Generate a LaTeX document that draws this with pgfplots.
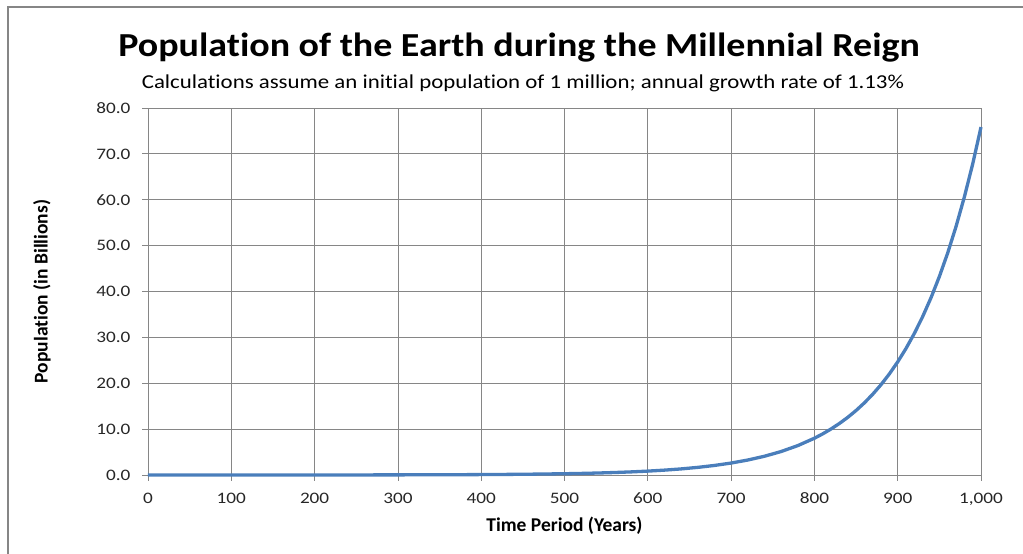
\documentclass[border=0pt]{standalone}
\usepackage{pgfplots}
\pgfplotsset{compat=1.18}
\usepackage{fontspec}
\setmainfont{Carlito}[Ligatures=NoCommon]
% the reference's text is a little wide, so stretch it
\newfontfamily\titlefont{Carlito}[Ligatures=NoCommon, FakeStretch=1.13]
\newfontfamily\subfont{Carlito}[Ligatures=NoCommon, FakeStretch=1.16]
\newfontfamily\tickfont{Carlito}[FakeStretch=1.2]
\definecolor{xlblue}{RGB}{74,126,187}
\definecolor{xlgrid}{RGB}{134,134,134}
\begin{document}
\begin{tikzpicture}[x=1pt,y=1pt]
\useasboundingbox (0,0) rectangle (1023,554);
% chart area border (top and left only, the rest is cropped)
\draw[xlgrid,line width=1.2pt] (8,0) -- (8,547) -- (1023,547);
\node[font=\titlefont\bfseries\fontsize{33.6}{36}\selectfont] at (519,506) {Population of the Earth during the Millennial Reign};
\node[font=\subfont\fontsize{19.7}{23}\selectfont] at (523,471) {Calculations assume an initial population of 1 million; annual growth rate of 1.13\%};
\begin{axis}[
    at={(148pt,79pt)}, anchor=south west,
    scale only axis, width=833pt, height=367pt,
    xmin=0, xmax=1000, ymin=0, ymax=80,
    xtick={0,100,...,1000}, ytick={0,10,...,80},
    axis x line*=bottom, axis y line*=left,
    axis line style={xlgrid, line width=0.8pt},
    grid=major, major grid style={xlgrid, line width=0.8pt},
    tick align=outside, major tick length=6pt,
    tick style={xlgrid, line width=0.8pt},
    tick label style={font=\tickfont\fontsize{16}{18}\selectfont, text=black!85},
    /pgf/number format/assume math mode=true,
    yticklabel style={xshift=-8pt, /pgf/number format/.cd, fixed, fixed zerofill, precision=1},
    xticklabel style={anchor=north, text height=10pt, text depth=0pt, yshift=-9pt,
        /pgf/number format/.cd, 1000 sep={,}},
    xlabel={\bfseries Time Period (Years)},
    ylabel={\bfseries Population (in Billions)},
    label style={font=\bfseries\fontsize{19.5}{21}\selectfont},
    xlabel style={at={(axis description cs:0.5,0)}, anchor=center, yshift=-51pt},
    ylabel style={at={(axis description cs:-0.1273,0.5)}, anchor=center},
    clip=false,
]
\addplot[xlblue, line width=3.3pt, line join=round] coordinates {
(0,0.0010)(50,0.00175)(100,0.00308)(150,0.0054)(200,0.00946)(250,0.0166)
(300,0.0291)(350,0.0510)(400,0.0895)(450,0.1570)(500,0.2754)(520,0.3448)
(540,0.4317)(560,0.5405)(580,0.6767)(600,0.8471)(620,1.0606)(640,1.3278)
(660,1.6624)(680,2.0813)(700,2.606)(720,3.263)(740,4.085)(760,5.114)
(780,6.403)(800,8.015)(810,8.968)(820,10.035)(830,11.228)(840,12.563)
(850,14.057)(860,15.729)(870,17.600)(880,19.693)(890,22.035)(900,24.66)
(910,27.59)(920,30.87)(930,34.54)(940,38.65)(950,43.25)(960,48.39)
(970,54.15)(980,60.59)(990,67.78)(1000,75.84)
};
\end{axis}
\end{tikzpicture}
\end{document}
